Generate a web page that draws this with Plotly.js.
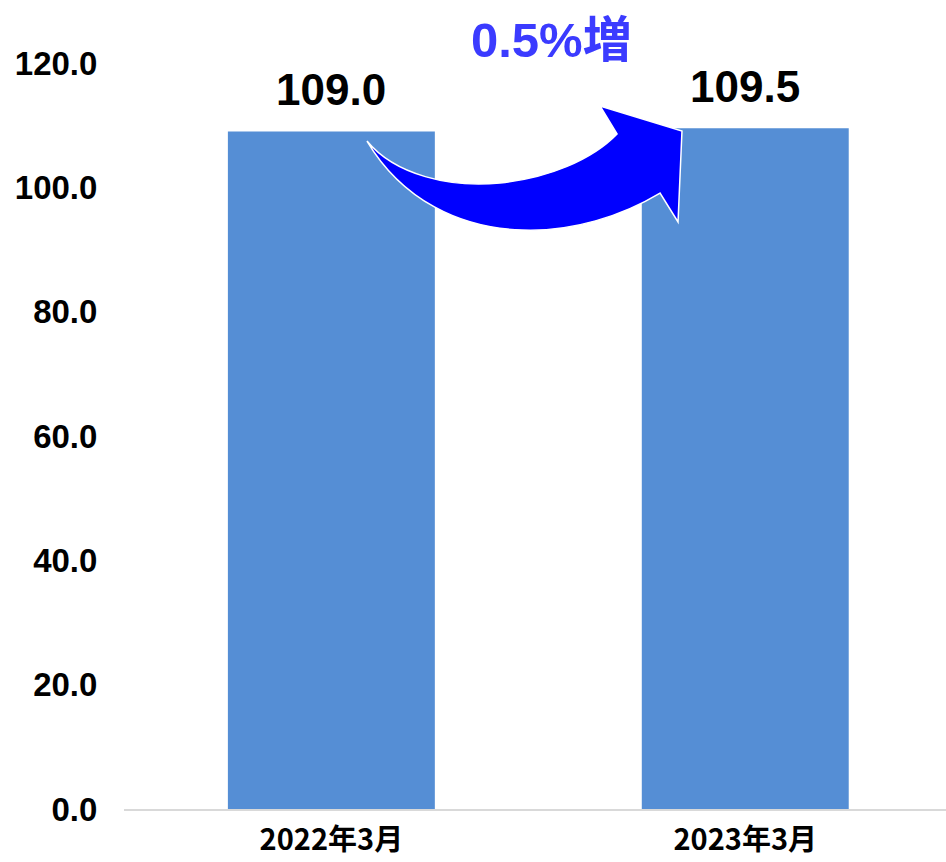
<!DOCTYPE html>
<html>
<head>
<meta charset="utf-8">
<script src="https://cdn.plot.ly/plotly-3.0.1.min.js"></script>
<style>html,body{margin:0;padding:0;background:#fff}#chart{width:946px;height:862px}</style>
</head>
<body>
<div id="chart"></div>
<script>
const categories = ["2022年3月", "2023年3月"];
const values = [109.0, 109.5];
const yTicks = [0, 20, 40, 60, 80, 100, 120];
const yTickLabels = ["0.0", "20.0", "40.0", "60.0", "80.0", "100.0", "120.0"];

const W = 946, H = 862;
const M = {l: 124, r: 0, t: 63, b: 53};
const PW = W - M.l - M.r, PH = H - M.t - M.b;
function px(x) { return ((x - M.l) / PW).toFixed(4); }
function py(y) { return ((H - M.b - y) / PH).toFixed(4); }
function P(x, y) { return px(x) + "," + py(y); }

const change = ((values[1] / values[0] - 1) * 100).toFixed(1) + "%増";

const arrowPath =
  "M " + P(367, 141) +
  " C " + P(395, 175) + " " + P(450, 188) + " " + P(500, 183) +
  " C " + P(548, 178) + " " + P(592, 160) + " " + P(617, 134) +
  " L " + P(600, 106) + " L " + P(682, 131) + " L " + P(678, 222) + " L " + P(660, 193) +
  " C " + P(622, 216) + " " + P(572, 232) + " " + P(522, 230) +
  " C " + P(460, 228) + " " + P(402, 200) + " " + P(367, 141) + " Z";

const trace = {
  type: "bar",
  x: categories,
  y: values,
  marker: {color: "#558ED5"},
  hoverinfo: "skip"
};

const layout = {
  width: W, height: H,
  margin: M,
  paper_bgcolor: "#ffffff",
  plot_bgcolor: "#ffffff",
  showlegend: false,
  bargap: 0.5,
  font: {family: "Liberation Sans, Arial, 'Noto Sans CJK JP'", color: "#000"},
  xaxis: {
    type: "category",
    range: [-0.501, 1.485],
    showline: true, linecolor: "#d9d9d9", linewidth: 2,
    showgrid: false, zeroline: false,
    ticks: "outside", ticklen: 4, tickcolor: "rgba(0,0,0,0)",
    tickfont: {family: "'Noto Sans CJK JP', Liberation Sans", size: 29, color: "#000", weight: "bold"}
  },
  yaxis: {
    range: [0, 120],
    tickvals: yTicks, ticktext: yTickLabels,
    showgrid: false, zeroline: false, showline: false,
    ticks: "outside", ticklen: 19, tickcolor: "rgba(0,0,0,0)",
    tickfont: {family: "Liberation Sans, Arial", size: 33, color: "#000", weight: "bold"}
  },
  shapes: [{
    type: "path", xref: "paper", yref: "paper",
    path: arrowPath,
    fillcolor: "#0000FF",
    line: {color: "#ffffff", width: 1.5},
    layer: "above"
  }],
  annotations: values.map((v, i) => ({
    x: categories[i], y: v, xref: "x", yref: "y",
    text: v.toFixed(1), showarrow: false,
    yanchor: "bottom", yshift: 15,
    font: {family: "Liberation Sans, Arial", size: 44, color: "#000", weight: "bold"}
  })).concat([{
    x: Number(px(551)), y: Number(py(40)), xref: "paper", yref: "paper",
    text: change, showarrow: false,
    xanchor: "center", yanchor: "middle",
    font: {family: "Liberation Sans, 'Noto Sans CJK JP'", size: 49, color: "#3B3BFF", weight: "bold"}
  }])
};

Plotly.newPlot("chart", [trace], layout, {displayModeBar: false, staticPlot: true});
</script>
</body>
</html>
